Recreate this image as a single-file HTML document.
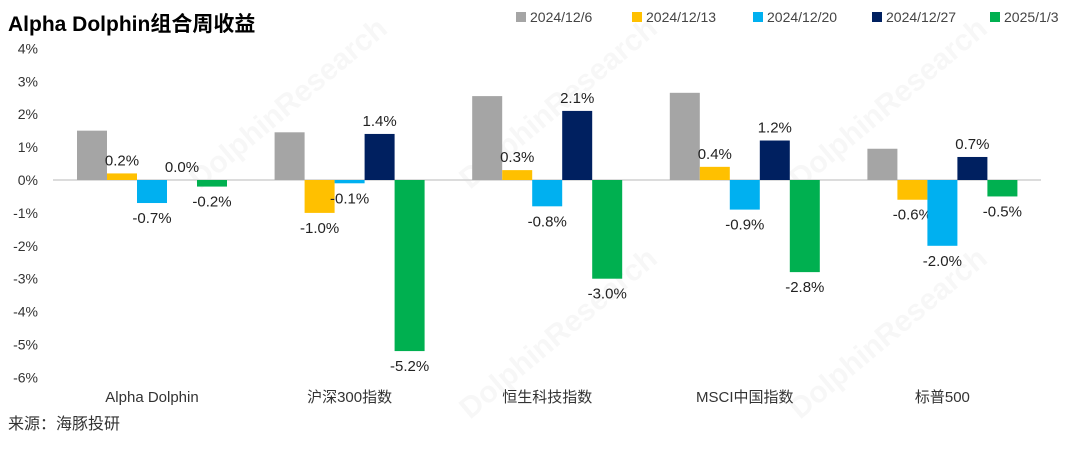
<!DOCTYPE html>
<html><head><meta charset="utf-8"><style>
body{margin:0;background:#fff;}
svg text{font-family:"Liberation Sans","Noto Sans CJK SC",sans-serif;}
</style></head><body>
<svg id="c" width="1080" height="444" xmlns="http://www.w3.org/2000/svg">
<rect width="1080" height="444" fill="#fff"/>
<text x="8" y="31" font-size="21" font-weight="bold" fill="#000">Alpha Dolphin组合周收益</text>
<text x="8" y="429" font-size="16" fill="#333">来源：海豚投研</text>
<g id="wm" fill="#000" opacity="0.035" font-size="30" font-weight="bold">
<text transform="translate(200,190) rotate(-40)">DolphinResearch</text>
<text transform="translate(470,190) rotate(-40)">DolphinResearch</text>
<text transform="translate(470,420) rotate(-40)">DolphinResearch</text>
<text transform="translate(800,420) rotate(-40)">DolphinResearch</text>
<text transform="translate(800,190) rotate(-40)">DolphinResearch</text>
</g>
<g id="axis"></g><g id="bars"></g><g id="legend"></g>
</svg>
<script>
const categories=["Alpha Dolphin","沪深300指数","恒生科技指数","MSCI中国指数","标普500"];
const seriesNames=["2024/12/6","2024/12/13","2024/12/20","2024/12/27","2025/1/3"];
const s1=[1.5,1.45,2.55,2.65,0.95];
const s2=[0.2,-1.0,0.3,0.4,-0.6];
const s3=[-0.7,-0.1,-0.8,-0.9,-2.0];
const s4=[0.0,1.4,2.1,1.2,0.7];
const s5=[-0.2,-5.2,-3.0,-2.8,-0.5];
const showLabels=[false,true,true,true,true];
const yTicks=[4,3,2,1,0,-1,-2,-3,-4,-5,-6];
const colors=["#a5a5a5","#ffc000","#00b0f0","#002060","#00b050"];
const series=[s1,s2,s3,s4,s5];
const NS="http://www.w3.org/2000/svg";
function y(v){return 180-v*32.9;}
function gx(i){return 53+i*197.6;}
function mk(t,a,p){const e=document.createElementNS(NS,t);for(const k in a)e.setAttribute(k,a[k]);p.appendChild(e);return e;}
const ax=document.getElementById('axis');
yTicks.forEach(t=>{const e=mk('text',{x:38,y:y(t)+5,'font-size':14,'text-anchor':'end',fill:'#333'},ax);e.textContent=t+'%';

});
const zl=mk('line',{x1:53,x2:1041,y1:y(0),y2:y(0),stroke:'#d0d0d0','stroke-width':1.5},ax);


categories.forEach((c,i)=>{const e=mk('text',{x:gx(i)+99,y:402,'font-size':15,'text-anchor':'middle',fill:'#333'},ax);e.textContent=c;

});
const bg=document.getElementById('bars');
series.forEach((s,k)=>{s.forEach((v,i)=>{const x=gx(i)+24+k*30;const y0=y(0),y1=y(v);
const r=mk('rect',{x:x,y:Math.min(y0,y1),width:30,height:Math.max(Math.abs(y1-y0),v===0?0:1),fill:colors[k]},bg);


if(showLabels[k]){const ty=v>=0?y1-8:y1+20;const t=mk('text',{x:x+15,y:ty,'font-size':15,'text-anchor':'middle',fill:'#222'},bg);t.textContent=v.toFixed(1)+'%';

}});});
const lg=document.getElementById('legend');
const lx=[530,646,767,886,1004];
seriesNames.forEach((n,k)=>{const g=mk('g',{},lg);


mk('rect',{x:lx[k]-14,y:12,width:10,height:10,fill:colors[k]},g);
const t=mk('text',{x:lx[k],y:22,'font-size':14,fill:'#444'},g);t.textContent=n;});
</script>
</body></html>
